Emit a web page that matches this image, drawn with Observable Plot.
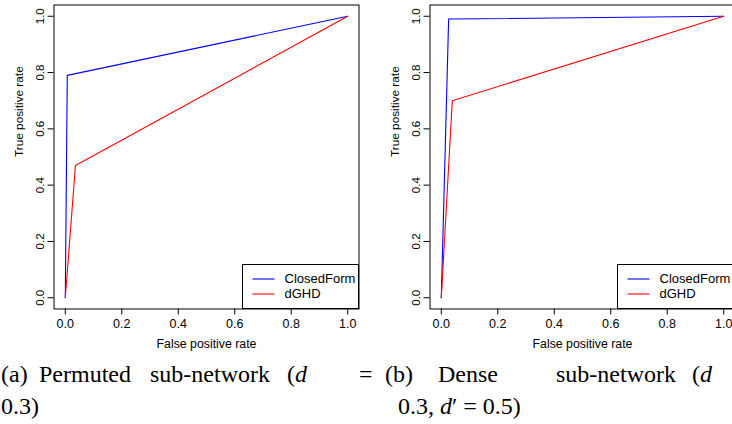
<!DOCTYPE html>
<html>
<head>
<meta charset="utf-8">
<script src="https://cdn.jsdelivr.net/npm/d3@7"></script>
<script src="https://cdn.jsdelivr.net/npm/@observablehq/plot@0.6"></script>
<style>
  html, body { margin: 0; padding: 0; background: white; overflow: hidden; }
  #wrap { position: relative; width: 732px; height: 424px; overflow: hidden; background: white; }
  .panel { position: absolute; top: 0; width: 366px; height: 355px; }
  .panel svg { max-width: none !important; width: 366px; height: 355px; display: block; }
  #overlay { position: absolute; left: 0; top: 0; }
</style>
</head>
<body>
<div id="wrap">
  <div id="pa" class="panel" style="left:0px"></div>
  <div id="pb" class="panel" style="left:376px"></div>
  <svg id="overlay" width="732" height="424"></svg>
</div>
<script>
// ---- data ----
const seriesNames = ["ClosedForm", "dGHD"];
const seriesColors = ["blue", "red"];

// Panel (a): Permuted sub-network
const aClosedFPR = [0, 0.007, 1];
const aClosedTPR = [0, 0.79, 1];
const aDghdFPR   = [0, 0.036, 1];
const aDghdTPR   = [0, 0.47, 1];

// Panel (b): Dense sub-network
const bClosedFPR = [0, 0.026, 1];
const bClosedTPR = [0, 0.99, 1];
const bDghdFPR   = [0, 0.039, 1];
const bDghdTPR   = [0, 0.70, 1];

const xTicks = [0, 0.2, 0.4, 0.6, 0.8, 1.0];
const yTicks = [0, 0.2, 0.4, 0.6, 0.8, 1.0];
const xLabel = "False positive rate";
const yLabel = "True positive rate";

function rows(fpr, tpr, name) {
  return fpr.map((f, i) => ({fpr: f, tpr: tpr[i], series: name}));
}

const panelA = [
  ...rows(aClosedFPR, aClosedTPR, seriesNames[0]),
  ...rows(aDghdFPR, aDghdTPR, seriesNames[1])
];
const panelB = [
  ...rows(bClosedFPR, bClosedTPR, seriesNames[0]),
  ...rows(bDghdFPR, bDghdTPR, seriesNames[1])
];

const fmt = d3.format(".1f");

function makePanel(data) {
  return Plot.plot({
    width: 366,
    height: 355,
    marginLeft: 53.5,
    marginRight: 7.5,
    marginTop: 4.5,
    marginBottom: 46.5,
    style: {fontFamily: "'Liberation Sans', Arial, sans-serif", fontSize: "12px", color: "black", background: "white"},
    x: {domain: [-0.04, 1.04]},
    y: {domain: [-0.04, 1.04]},
    color: {domain: seriesNames, range: seriesColors},
    marks: [
      Plot.axisX({ticks: xTicks, tickSize: 6, tickPadding: 4.5, tickFormat: fmt, label: null, fontSize: 12.5}),
      Plot.axisY({ticks: yTicks, tickSize: 6, tickPadding: 4, tickRotate: -90, textAnchor: "middle", lineAnchor: "bottom", tickFormat: fmt, label: null, fontSize: 11.5}),
      Plot.text([xLabel], {frameAnchor: "bottom", dy: 39, text: d => d, lineAnchor: "bottom", fontSize: 12.3}),
      Plot.text([yLabel], {frameAnchor: "left", rotate: -90, dx: -31.5, text: d => d, lineAnchor: "bottom", fontSize: 11.8}),
      Plot.line(data, {x: "fpr", y: "tpr", z: "series", stroke: "series", strokeWidth: 1.1}),
      Plot.frame({stroke: "black", strokeWidth: 1})
    ]
  });
}

document.getElementById("pa").appendChild(makePanel(panelA));
document.getElementById("pb").appendChild(makePanel(panelB));

// ---- legends and captions (overlay) ----
const svg = d3.select("#overlay");

function legend(left) {
  const g = svg.append("g").attr("transform", `translate(${left},264.5)`);
  g.append("rect").attr("x", 0).attr("y", 0).attr("width", 116).attr("height", 44)
    .attr("fill", "white").attr("stroke", "black").attr("stroke-width", 1);
  seriesNames.forEach((name, i) => {
    const y = 14.5 + i * 15;
    g.append("line").attr("x1", 10).attr("x2", 32).attr("y1", y).attr("y2", y)
      .attr("stroke", seriesColors[i]).attr("stroke-width", 1.1);
    g.append("text").attr("x", 42).attr("y", y + 4.3).text(name)
      .attr("font-family", "'Liberation Sans', Arial, sans-serif").attr("font-size", 13).attr("fill", "black");
  });
}
legend(242.5);
legend(617.5);

const capFont = "'Liberation Serif', 'Times New Roman', serif";
function capWord(x, y, html) {
  const t = svg.append("text").attr("x", x).attr("y", y)
    .attr("font-family", capFont).attr("font-size", 24).attr("fill", "black")
    .attr("xml:space", "preserve");
  t.html(html);
}
// Caption (a)
capWord(1, 382, "(a)");
capWord(39, 382, "Permuted");
capWord(150, 382, "sub-network");
capWord(287, 382, "(<tspan font-style='italic'>d</tspan>");
capWord(359, 382, "=");
capWord(1, 414, "0.3)");
// Caption (b)
capWord(385, 382, "(b)");
capWord(438, 382, "Dense");
capWord(556, 382, "sub-network");
capWord(692, 382, "(<tspan font-style='italic'>d</tspan>");
capWord(398, 414, "0.3, <tspan font-style='italic'>d</tspan>′ = 0.5)");
</script>
</body>
</html>
